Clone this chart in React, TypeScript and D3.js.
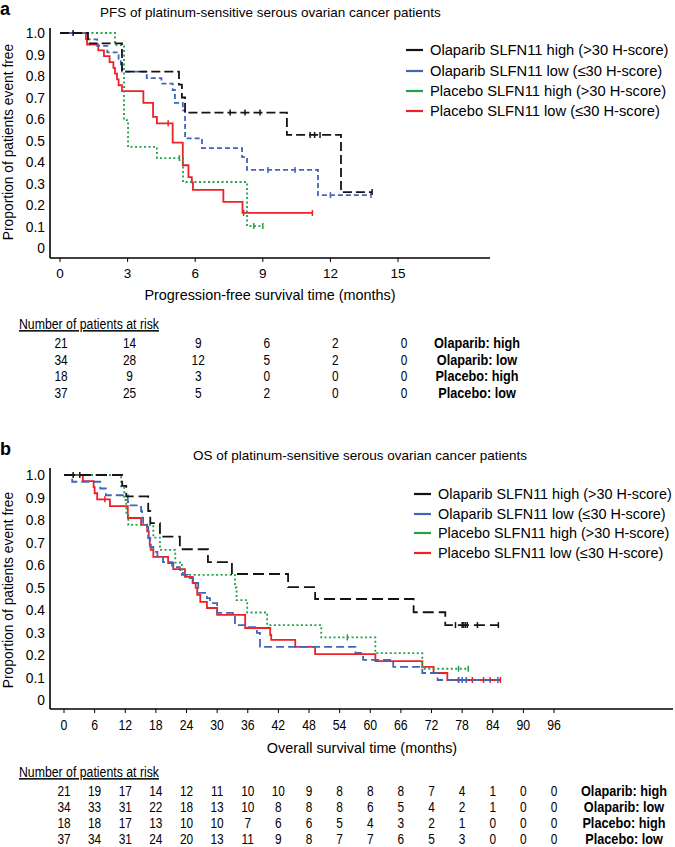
import React from "react";
import * as d3 from "d3";

type Pt = [number, number];

// ---------- shared ----------
const seriesNames = [
  "Olaparib SLFN11 high (>30 H-score)",
  "Olaparib SLFN11 low (\u226430 H-score)",
  "Placebo SLFN11 high (>30 H-score)",
  "Placebo SLFN11 low (\u226430 H-score)",
];
const riskGroups = ["Olaparib: high", "Olaparib: low", "Placebo: high", "Placebo: low"];
const yTickValues = [0, 0.1, 0.2, 0.3, 0.4, 0.5, 0.6, 0.7, 0.8, 0.9, 1.0];
const yTickLabels = ["0", "0.1", "0.2", "0.3", "0.4", "0.5", "0.6", "0.7", "0.8", "0.9", "1.0"];

// ---------- panel a: PFS ----------
const pfsMonths = [0, 3, 6, 9, 12, 15];
const pfsOlaHigh: Pt[] = [[0, 1], [1.24, 0.952], [2.75, 0.82], [5.28, 0.76], [5.41, 0.7], [5.55, 0.63], [10.07, 0.526], [12.47, 0.26], [13.85, 0.26]];
const pfsOlaHighCens = [0.58, 7.55, 8.21, 8.88, 11.1, 11.3, 11.54, 13.85];
const pfsOlaLow: Pt[] = [[0, 1], [1.24, 0.97], [1.65, 0.94], [2.1, 0.91], [2.6, 0.88], [2.7, 0.85], [2.75, 0.82], [3.85, 0.79], [4.5, 0.765], [5.0, 0.735], [5.1, 0.675], [5.45, 0.64], [5.55, 0.51], [6.3, 0.465], [8.08, 0.423], [8.3, 0.363], [11.45, 0.246], [13.8, 0.246]];
const pfsOlaLowCens = [9.23, 10.43, 12.0, 13.8];
const pfsPlaHigh: Pt[] = [[0, 1], [2.44, 0.944], [2.84, 0.595], [3.02, 0.47], [4.3, 0.418], [5.46, 0.307], [8.3, 0.102], [9.0, 0.102]];
const pfsPlaHighCens = [5.3, 8.6, 9.0];
const pfsPlaLow: Pt[] = [[0, 1], [1.15, 0.973], [1.2, 0.946], [1.7, 0.919], [1.95, 0.892], [2.2, 0.865], [2.37, 0.838], [2.44, 0.811], [2.53, 0.784], [2.6, 0.757], [2.75, 0.73], [3.7, 0.675], [4.13, 0.61], [4.3, 0.58], [5.0, 0.49], [5.45, 0.385], [5.7, 0.33], [5.85, 0.305], [5.9, 0.27], [7.25, 0.215], [8.1, 0.163], [11.2, 0.163]];
const pfsPlaLowCens = [4.8, 8.15, 11.2];
const pfsRiskOlaHigh = [21, 14, 9, 6, 2, 0];
const pfsRiskOlaLow = [34, 28, 12, 5, 2, 0];
const pfsRiskPlaHigh = [18, 9, 3, 0, 0, 0];
const pfsRiskPlaLow = [37, 25, 5, 2, 0, 0];

// ---------- panel b: OS ----------
const osMonths = [0, 6, 12, 18, 24, 30, 36, 42, 48, 54, 60, 66, 72, 78, 84, 90, 96];
const osOlaHigh: Pt[] = [[0, 1], [11.4, 0.952], [12.2, 0.905], [16.5, 0.84], [16.9, 0.786], [18.8, 0.726], [22.7, 0.67], [28.2, 0.613], [32.9, 0.56], [43.9, 0.502], [49.2, 0.449], [68.5, 0.39], [74.7, 0.333], [85.1, 0.333]];
const osOlaHighCens = [1.8, 3.1, 76.7, 78.0, 78.2, 78.6, 79.0, 81.0, 85.1];
const osOlaLow: Pt[] = [[0, 1], [1.6, 0.97], [7.1, 0.94], [8.2, 0.91], [12.5, 0.88], [13.0, 0.865], [15.1, 0.84], [15.3, 0.81], [15.5, 0.787], [16.3, 0.769], [16.5, 0.72], [16.9, 0.68], [17.5, 0.658], [18.3, 0.636], [19.4, 0.613], [21.2, 0.591], [22.7, 0.578], [23.3, 0.556], [24.3, 0.542], [25.3, 0.52], [26.3, 0.476], [28.0, 0.453], [28.6, 0.431], [30.0, 0.387], [33.1, 0.369], [33.5, 0.333], [35.9, 0.324], [37.8, 0.298], [38.4, 0.236], [57.1, 0.209], [58.6, 0.178], [64.5, 0.147], [70.2, 0.12], [73.2, 0.089], [85.0, 0.089]];
const osOlaLowCens = [77.3, 78.0, 78.8, 85.0];
const osPlaHigh: Pt[] = [[0, 1], [11.2, 0.944], [11.8, 0.889], [12.2, 0.833], [12.6, 0.778], [17.5, 0.722], [18.8, 0.667], [21.8, 0.611], [23.1, 0.556], [33.5, 0.5], [33.8, 0.444], [35.9, 0.389], [39.8, 0.333], [50.4, 0.278], [61.0, 0.208], [70.2, 0.139], [79.2, 0.139]];
const osPlaHighCens = [55.5, 77.3, 79.2];
const osPlaLow: Pt[] = [[0, 1], [3.7, 0.973], [5.8, 0.946], [6.0, 0.919], [6.5, 0.892], [9.0, 0.862], [12.5, 0.809], [15.1, 0.778], [16.3, 0.75], [16.6, 0.72], [16.8, 0.69], [17.0, 0.667], [17.5, 0.636], [20.4, 0.609], [21.4, 0.582], [23.7, 0.547], [25.2, 0.52], [25.8, 0.498], [26.1, 0.467], [26.7, 0.436], [28.0, 0.409], [30.0, 0.378], [35.5, 0.32], [40.4, 0.289], [40.6, 0.267], [45.3, 0.236], [49.2, 0.204], [61.0, 0.173], [70.2, 0.147], [72.4, 0.12], [75.1, 0.089], [85.5, 0.089]];
const osPlaLowCens = [8.0, 77.3, 80.0, 82.2, 83.5, 85.5];
const osRiskOlaHigh = [21, 19, 17, 14, 12, 11, 10, 10, 9, 8, 8, 8, 7, 4, 1, 0, 0];
const osRiskOlaLow = [34, 33, 31, 22, 18, 13, 10, 8, 8, 8, 6, 5, 4, 2, 1, 0, 0];
const osRiskPlaHigh = [18, 18, 17, 13, 10, 10, 7, 6, 6, 5, 4, 3, 2, 1, 0, 0, 0];
const osRiskPlaLow = [37, 34, 31, 24, 20, 13, 11, 9, 8, 7, 7, 6, 5, 3, 0, 0, 0];

const colors = ["#141414", "#4365b9", "#23a04a", "#ed2226"];
const FONT = "'Liberation Sans', Arial, Helvetica, sans-serif";
const NARROW_SX = 0.82;

function stepAt(pts: Pt[], t: number): number {
  let v = pts[0][1];
  for (const [tt, s] of pts) if (tt <= t) v = s;
  return v;
}

function NText({ x, y, size, anchor = "start", bold = false, underline = false, children }:
  { x: number; y: number; size: number; anchor?: string; bold?: boolean; underline?: boolean; children: React.ReactNode }) {
  return (
    <text transform={`translate(${x},${y}) scale(${NARROW_SX},1)`} textAnchor={anchor} fontFamily={FONT}
      fontWeight={bold ? "bold" : "normal"} fontSize={size} textDecoration={underline ? "underline" : undefined}>
      {children}
    </text>
  );
}

interface PanelCfg {
  letter: string;
  title: string;
  titleX: number;
  titleY: number;
  letterY: number;
  months: number[];
  xRange: [number, number];
  yRange: [number, number];
  axisY: number;
  axisTop: number;
  axisRight: number;
  xLabel: string;
  xLabelX: number;
  xLabelY: number;
  narrowTicks: boolean;
  yLabelY: number;
  curves: Pt[][];
  cens: number[][];
  dashes: string[];
  legendX: number;
  legendY: number[];
  legendSize: number;
  riskTitleY: number;
  riskRowsY: number[];
  riskRange: [number, number];
  riskLabelX: number;
  risk: number[][];
}

function Panel({ c }: { c: PanelCfg }) {
  const x = d3.scaleLinear().domain([c.months[0], c.months[c.months.length - 1]]).range(c.xRange);
  const y = d3.scaleLinear().domain([0, 1]).range(c.yRange);
  const line = d3.line<Pt>().x((d) => x(d[0])).y((d) => y(d[1])).curve(d3.curveStepAfter);
  const rx = d3.scalePoint<number>().domain(c.months).range(c.riskRange);
  const order = [3, 2, 1, 0];
  return (
    <g>
      <text x={0} y={c.letterY} fontFamily={FONT} fontWeight="bold" fontSize={18}>{c.letter}</text>
      <text x={c.titleX} y={c.titleY} fontFamily={FONT} fontSize={13.5}>{c.title}</text>
      {/* axes */}
      <line x1={50} x2={50} y1={c.axisTop} y2={c.axisY} stroke="#000" strokeWidth={1.6} />
      <line x1={50} x2={c.axisRight} y1={c.axisY} y2={c.axisY} stroke="#000" strokeWidth={1.6} />
      {c.months.map((m) => (
        <g key={m}>
          <line x1={x(m)} x2={x(m)} y1={c.axisY} y2={c.axisY + 4} stroke="#000" strokeWidth={1} />
          {c.narrowTicks ? (
            <NText x={x(m)} y={c.axisY + 21} size={15} anchor="middle">{m}</NText>
          ) : (
            <text x={x(m)} y={c.axisY + 20} textAnchor="middle" fontFamily={FONT} fontSize={13.5}>{m}</text>
          )}
        </g>
      ))}
      {yTickValues.map((v, i) => (
        <text key={v} x={45} y={y(v) + 5} textAnchor="end" fontFamily={FONT} fontSize={13.8}>{yTickLabels[i]}</text>
      ))}
      <text transform={`translate(13,${c.yLabelY}) rotate(-90)`} textAnchor="middle" fontFamily={FONT} fontSize={13.8}>
        Proportion of patients event free
      </text>
      <text x={c.xLabelX} y={c.xLabelY} textAnchor="middle" fontFamily={FONT} fontSize={14.4}>{c.xLabel}</text>
      {/* curves */}
      {order.map((i) => (
        <g key={i}>
          <path d={line(c.curves[i]) || ""} fill="none" stroke={colors[i]} strokeWidth={1.8}
            strokeDasharray={c.dashes[i] || undefined} />
          {c.cens[i].map((t, k) => (
            <line key={k} x1={x(t)} x2={x(t)} y1={y(stepAt(c.curves[i], t)) - 3} y2={y(stepAt(c.curves[i], t)) + 3}
              stroke={colors[i]} strokeWidth={1.5} />
          ))}
        </g>
      ))}
      {/* legend */}
      {seriesNames.map((n, i) => (
        <g key={n}>
          <line x1={c.legendX - 24} x2={c.legendX - 7} y1={c.legendY[i]} y2={c.legendY[i]} stroke={colors[i]} strokeWidth={2.2} />
          <text x={c.legendX} y={c.legendY[i] + 5} fontFamily={FONT} fontSize={c.legendSize}>{n}</text>
        </g>
      ))}
      {/* risk table */}
      <NText x={19} y={c.riskTitleY} size={15} underline>Number of patients at risk</NText>
      {c.risk.map((row, r) => (
        <g key={r}>
          {row.map((v, k) => (
            <NText key={k} x={rx(c.months[k]) as number} y={c.riskRowsY[r]} size={14.5} anchor="middle">{v}</NText>
          ))}
          <NText x={c.riskLabelX} y={c.riskRowsY[r]} size={15.5} anchor="middle" bold>{riskGroups[r]}</NText>
        </g>
      ))}
    </g>
  );
}

export default function App() {
  const a: PanelCfg = {
    letter: "a", title: "PFS of platinum-sensitive serous ovarian cancer patients", titleX: 100, titleY: 17, letterY: 15,
    months: pfsMonths, xRange: [60, 398], yRange: [248, 33], axisY: 258, axisTop: 28, axisRight: 490,
    xLabel: "Progression-free survival time (months)", xLabelX: 270, xLabelY: 300, narrowTicks: false, yLabelY: 142,
    curves: [pfsOlaHigh, pfsOlaLow, pfsPlaHigh, pfsPlaLow],
    cens: [pfsOlaHighCens, pfsOlaLowCens, pfsPlaHighCens, pfsPlaLowCens],
    dashes: ["9,4", "5,3", "2,2.5", ""],
    legendX: 430, legendY: [50, 71, 91, 111], legendSize: 14.7,
    riskTitleY: 329, riskRowsY: [348, 364.5, 381, 397.5], riskRange: [61, 404], riskLabelX: 477,
    risk: [pfsRiskOlaHigh, pfsRiskOlaLow, pfsRiskPlaHigh, pfsRiskPlaLow],
  };
  const b: PanelCfg = {
    letter: "b", title: "OS of platinum-sensitive serous ovarian cancer patients", titleX: 193, titleY: 460, letterY: 455,
    months: osMonths, xRange: [64, 554], yRange: [700, 475], axisY: 709, axisTop: 468, axisRight: 673,
    xLabel: "Overall survival time (months)", xLabelX: 362, xLabelY: 753, narrowTicks: true, yLabelY: 590,
    curves: [osOlaHigh, osOlaLow, osPlaHigh, osPlaLow],
    cens: [osOlaHighCens, osOlaLowCens, osPlaHighCens, osPlaLowCens],
    dashes: ["11,5", "8,4", "2,2.5", ""],
    legendX: 438, legendY: [494, 514, 533, 553], legendSize: 14.4,
    riskTitleY: 777, riskRowsY: [796, 812, 828, 844], riskRange: [64, 554], riskLabelX: 624,
    risk: [osRiskOlaHigh, osRiskOlaLow, osRiskPlaHigh, osRiskPlaLow],
  };
  return (
    <svg width={675} height={847} style={{ display: "block", position: "absolute", left: 0, top: 0, background: "#fff" }}>
      <rect width={675} height={847} fill="#fff" />
      <Panel c={a} />
      <Panel c={b} />
    </svg>
  );
}
